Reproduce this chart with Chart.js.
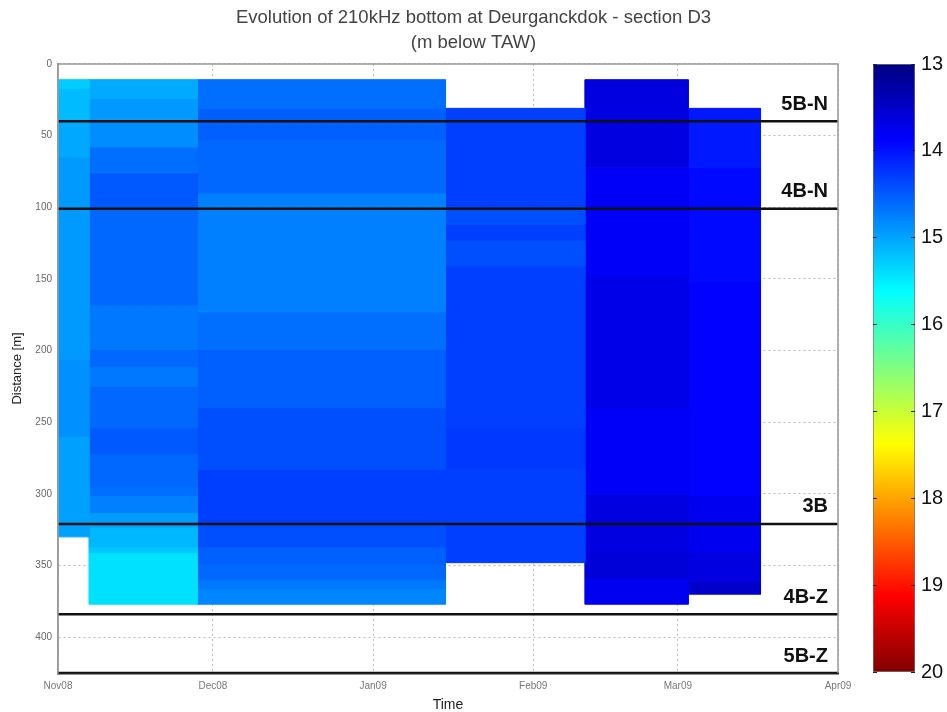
<!DOCTYPE html>
<html>
<head>
<meta charset="utf-8">
<title>Evolution of 210kHz bottom at Deurganckdok - section D3</title>
<script src="https://cdn.jsdelivr.net/npm/chart.js@4.4.1/dist/chart.umd.min.js"></script>
<style>
  html, body { margin: 0; padding: 0; background: #fff; }
  #wrap { position: relative; width: 947px; height: 712px; }
  #main { position: absolute; left: 0; top: 0; }
  #cbar { position: absolute; left: 873px; top: 0; }
</style>
</head>
<body>
<div id="wrap">
  <canvas id="main" width="947" height="712"></canvas>
  <canvas id="cbar" width="74" height="712"></canvas>
</div>
<script>
// Survey column edges, in days since 1 Nov 2008
const colDays = [0, 6, 27, 75, 102, 122, 136];

// Per survey: cell edges along the section (m) and bottom level (m below TAW)
const edges1 = [11, 17, 40, 65, 206, 260, 330];
const depth1 = [15.28, 15.16, 15.03, 14.93, 14.86, 14.97];
const edges2 = [11, 24, 39, 58, 76, 100, 168, 199, 211, 225, 254, 272, 295, 301, 313, 323, 337, 341, 377];
const depth2 = [15.04, 14.93, 14.84, 14.64, 14.48, 14.59, 14.70, 14.59, 14.70, 14.59, 14.48, 14.59, 14.64, 14.75, 14.95, 15.14, 15.24, 15.41];
const edges3 = [11, 31, 53, 90, 173, 199, 240, 283, 321, 337, 349, 360, 366, 377];
const depth3 = [14.64, 14.53, 14.59, 14.75, 14.64, 14.53, 14.42, 14.31, 14.42, 14.53, 14.59, 14.70, 14.80];
const edges4 = [31, 100, 112, 123, 141, 254, 283, 348];
const depth4 = [14.31, 14.42, 14.31, 14.42, 14.31, 14.26, 14.31];
const edges5 = [11, 16, 72, 148, 240, 300, 341, 359, 377];
const depth5 = [13.64, 13.66, 13.83, 13.72, 13.83, 13.66, 13.61, 13.77];
const edges6 = [31, 72, 152, 301, 341, 361, 370];
const depth6 = [14.04, 13.93, 13.88, 13.77, 13.66, 13.5];

// Section boundaries
const sectionNames = ["5B-N", "4B-N", "3B", "4B-Z", "5B-Z"];
const sectionDistances = [40, 101, 321, 384, 425];

// Axis ticks
const monthDays = [0, 30, 61, 92, 120, 151];
const monthLabels = ["Nov08", "Dec08", "Jan09", "Feb09", "Mar09", "Apr09"];
const distanceTicks = [0, 50, 100, 150, 200, 250, 300, 350, 400];
const colorTicks = [13, 14, 15, 16, 17, 18, 19, 20];
const COLOR_MIN = 13;
const COLOR_MAX = 20;

const FONT = '"Liberation Sans", Arial, Helvetica, sans-serif';

// MATLAB "jet" colormap
function jet(v) {
  const t = (v - COLOR_MIN) / (COLOR_MAX - COLOR_MIN);
  const c = (x) => Math.round(255 * Math.max(0, Math.min(1, x)));
  const r = c(1.5 - Math.abs(4 * t - 3));
  const g = c(1.5 - Math.abs(4 * t - 2));
  const b = c(1.5 - Math.abs(4 * t - 1));
  return `rgb(${r},${g},${b})`;
}
const JET_STOPS = [
  [0, "#000080"], [0.125, "#0000ff"], [0.375, "#00ffff"],
  [0.625, "#ffff00"], [0.875, "#ff0000"], [1, "#800000"],
];

const columns = [
  [edges1, depth1], [edges2, depth2], [edges3, depth3],
  [edges4, depth4], [edges5, depth5], [edges6, depth6],
];

// one filled polygon dataset per cell
const cellDatasets = [];
columns.forEach(([edges, depth], c) => {
  const x0 = colDays[c];
  const x1 = colDays[c + 1];
  depth.forEach((v, i) => {
    const y0 = edges[i];
    const y1 = edges[i + 1];
    const col = jet(v);
    cellDatasets.push({
      label: `survey ${c + 1} cell ${i + 1}`,
      data: [
        { x: x0, y: y0 }, { x: x1, y: y0 }, { x: x1, y: y1 },
        { x: x0, y: y1 }, { x: x0, y: y0 },
      ],
      backgroundColor: col,
      borderColor: col,
      borderWidth: 1,
      fill: "shape",
      pointRadius: 0,
      tension: 0,
    });
  });
});

const sectionDatasets = sectionDistances.map((d, i) => ({
  label: sectionNames[i],
  data: [{ x: monthDays[0], y: d }, { x: monthDays[monthDays.length - 1], y: d }],
  borderColor: "#111",
  borderWidth: 2.5,
  fill: false,
  pointRadius: 0,
}));

const axesBox = {
  id: "axesBox",
  afterDatasetsDraw(chart) {
    const { ctx, chartArea: a } = chart;
    ctx.save();
    ctx.strokeStyle = "#999";
    ctx.lineWidth = 1.5;
    ctx.beginPath();
    ctx.moveTo(a.left, a.bottom);
    ctx.lineTo(a.left, a.top);
    ctx.lineTo(a.right, a.top);
    ctx.lineTo(a.right, a.bottom);
    ctx.stroke();
    ctx.restore();
  },
};

const sectionLabels = {
  id: "sectionLabels",
  afterDatasetsDraw(chart) {
    const { ctx, scales: { x, y } } = chart;
    ctx.save();
    ctx.font = `bold 20px ${FONT}`;
    ctx.fillStyle = "#111";
    ctx.textAlign = "right";
    ctx.textBaseline = "alphabetic";
    sectionNames.forEach((name, i) => {
      ctx.fillText(name, x.getPixelForValue(x.max) - 10, y.getPixelForValue(sectionDistances[i]) - 11.5);
    });
    ctx.restore();
  },
};

new Chart(document.getElementById("main"), {
  type: "line",
  data: { datasets: [...sectionDatasets, ...cellDatasets] },
  options: {
    responsive: false,
    animation: false,
    layout: { padding: 0 },
    plugins: {
      legend: { display: false },
      tooltip: { enabled: false },
      title: {
        display: true,
        text: ["Evolution of 210kHz bottom at Deurganckdok - section D3", "(m below TAW)"],
        color: "#444",
        font: { family: FONT, size: 18.5, weight: "normal", lineHeight: 1.35 },
        padding: { top: 5.5, bottom: 8.5 },
      },
    },
    scales: {
      x: {
        type: "linear",
        min: monthDays[0],
        max: monthDays[monthDays.length - 1],
        afterBuildTicks: (s) => { s.ticks = monthDays.map((v) => ({ value: v })); },
        ticks: {
          callback: (v, i) => monthLabels[i],
          font: { family: FONT, size: 10 },
          color: "#777",
          padding: 7,
          maxRotation: 0,
          autoSkip: false,
        },
        grid: { color: "#bbb", drawTicks: false },
        border: { color: "#222", width: 2.5, dash: [2, 3] },
        title: {
          display: true,
          text: "Time",
          color: "#222",
          font: { family: FONT, size: 14, lineHeight: 1 },
          padding: 0,
        },
        afterFit: (s) => { s.height = 39; },
      },
      y: {
        type: "linear",
        reverse: true,
        min: 0,
        max: 425,
        afterBuildTicks: (s) => { s.ticks = distanceTicks.map((v) => ({ value: v })); },
        ticks: { font: { family: FONT, size: 10 }, color: "#666", padding: 6 },
        grid: { color: "#bbb", drawTicks: false },
        border: { color: "#999", width: 1.5, dash: [2, 3] },
        title: {
          display: true,
          text: "Distance [m]",
          color: "#222",
          font: { family: FONT, size: 13, lineHeight: 1.2 },
          padding: { top: 10, bottom: 0 },
        },
        afterFit: (s) => { s.width = 58; },
      },
      // reserves room on the right for the colour bar
      cb: {
        type: "linear",
        position: "right",
        grid: { display: false },
        ticks: { display: false },
        border: { display: false },
        afterFit: (s) => { s.width = 109; },
      },
    },
  },
  plugins: [axesBox, sectionLabels],
});

// colour bar
new Chart(document.getElementById("cbar"), {
  type: "bar",
  data: {
    labels: [""],
    datasets: [{
      data: [[COLOR_MIN, COLOR_MAX]],
      backgroundColor: (ctx) => {
        const area = ctx.chart.chartArea;
        if (!area) return "#0000ff";
        const g = ctx.chart.ctx.createLinearGradient(0, area.top, 0, area.bottom);
        JET_STOPS.forEach(([t, c]) => g.addColorStop(t, c));
        return g;
      },
      borderColor: "#777",
      borderWidth: 1,
      borderSkipped: false,
      barPercentage: 1,
      categoryPercentage: 1,
    }],
  },
  options: {
    responsive: false,
    animation: false,
    layout: { padding: { top: 64, bottom: 40, left: 0, right: 0 } },
    plugins: { legend: { display: false }, tooltip: { enabled: false } },
    scales: {
      x: { display: false },
      y: {
        position: "right",
        reverse: true,
        min: COLOR_MIN,
        max: COLOR_MAX,
        afterBuildTicks: (s) => { s.ticks = colorTicks.map((v) => ({ value: v })); },
        ticks: { font: { family: FONT, size: 20 }, color: "#111", padding: 6 },
        grid: { color: "#222", drawTicks: false, z: 1 },
        border: { display: false, dash: [4, 34] },
        afterFit: (s) => { s.width = 32; },
      },
    },
  },
});
</script>
</body>
</html>
